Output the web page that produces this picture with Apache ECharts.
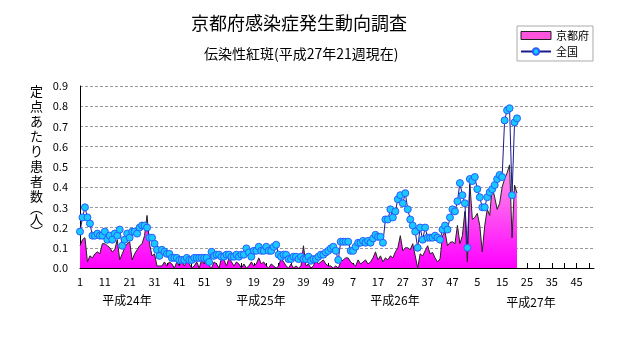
<!DOCTYPE html>
<html>
<head>
<meta charset="utf-8">
<script src="https://cdn.jsdelivr.net/npm/echarts@6/dist/echarts.min.js"></script>
<style>html,body{margin:0;padding:0;background:#fff}#c{width:631px;height:347px}</style>
</head>
<body>
<div id="c"></div>
<script>
// ---- data ----
const yearNames = ['平成24年', '平成25年', '平成26年', '平成27年'];
const yearKeys = ['24', '25', '26', '27'];
const weeksPerYear = [52, 52, 52, 52];

const kyoto2012 = [0.11,0.14,0.15,0.03,0.06,0.05,0.07,0.08,0.07,0.12,0.12,0.11,0.10,0.08,0.09,0.14,0.04,0.07,0.10,0.12,0.13,0.04,0.07,0.09,0.11,0.12,0.16,0.26,0.12,0.06,0.07,0.01,0.01,0.01,0.03,0.01,0.03,0.02,0.00,0.03,0.01,0.04,0.01,0.03,0.02,0.00,0.01,0.03,0.00,0.04,0.02,0.05];
const kyoto2013 = [0.01,0.00,0.03,0.02,0.00,0.05,0.04,0.01,0.05,0.03,0.01,0.03,0.02,0.00,0.02,0.00,0.01,0.03,0.01,0.02,0.05,0.02,0.03,0.01,0.00,0.02,0.01,0.00,0.01,0.05,0.03,0.01,0.00,0.02,0.00,0.01,0.00,0.01,0.11,0.01,0.02,0.00,0.01,0.04,0.02,0.03,0.04,0.02,0.01,0.01,0.00,0.01];
const kyoto2014 = [0.00,0.03,0.04,0.05,0.05,0.03,0.02,0.01,0.04,0.02,0.03,0.04,0.02,0.03,0.05,0.08,0.04,0.06,0.03,0.05,0.04,0.06,0.05,0.08,0.10,0.16,0.085,0.10,0.10,0.09,0.12,0.06,0.00,0.07,0.06,0.085,0.11,0.07,0.077,0.05,0.03,0.045,0.16,0.18,0.11,0.126,0.13,0.12,0.21,0.12,0.16,0.28];
const kyoto2015 = [0.03,0.42,0.24,0.25,0.27,0.21,0.08,0.21,0.29,0.26,0.40,0.35,0.29,0.32,0.40,0.44,0.47,0.51,0.15,0.41,0.37];

const nation2012 = [0.18,0.25,0.30,0.25,0.22,0.16,0.16,0.17,0.16,0.16,0.18,0.14,0.16,0.14,0.17,0.16,0.19,0.11,0.14,0.17,0.15,0.18,0.18,0.17,0.20,0.21,0.21,0.20,0.15,0.15,0.12,0.09,0.06,0.09,0.08,0.07,0.07,0.05,0.05,0.05,0.04,0.04,0.04,0.05,0.04,0.04,0.05,0.05,0.05,0.05,0.05,0.05];
const nation2013 = [0.03,0.08,0.06,0.066,0.066,0.056,0.056,0.066,0.066,0.056,0.056,0.066,0.056,0.066,0.066,0.097,0.077,0.056,0.085,0.085,0.105,0.085,0.085,0.105,0.085,0.085,0.105,0.115,0.066,0.056,0.066,0.066,0.044,0.044,0.056,0.056,0.044,0.056,0.044,0.044,0.056,0.036,0.044,0.044,0.056,0.066,0.066,0.077,0.085,0.097,0.105,0.085];
const nation2014 = [0.04,0.13,0.13,0.13,0.13,0.085,0.085,0.105,0.125,0.125,0.134,0.125,0.134,0.125,0.146,0.164,0.154,0.154,0.125,0.24,0.24,0.29,0.25,0.28,0.34,0.36,0.32,0.37,0.29,0.24,0.21,0.18,0.10,0.20,0.14,0.20,0.15,0.15,0.15,0.16,0.15,0.14,0.19,0.21,0.19,0.25,0.29,0.28,0.33,0.42,0.36,0.32];
const nation2015 = [0.10,0.44,0.43,0.45,0.39,0.35,0.30,0.30,0.35,0.375,0.39,0.41,0.44,0.46,0.45,0.73,0.78,0.79,0.36,0.72,0.74];

// ---- build categories ----
const categories = [];
yearKeys.forEach((k, yi) => {
  for (let w = 1; w <= weeksPerYear[yi]; w++) categories.push(k + '-' + w);
});
const kyoto = [].concat(kyoto2012, kyoto2013, kyoto2014, kyoto2015);
const nation = [].concat(nation2012, nation2013, nation2014, nation2015);

const FONT = '"Noto Sans CJK JP", sans-serif';
const chart = echarts.init(document.getElementById('c'), null, {renderer: 'canvas'});

const yearLabelX = [127, 261, 395, 531];
const yearLabelY = [300, 300, 300, 302];

chart.setOption({
  animation: false,
  backgroundColor: '#fff',
  title: [
    {text: '京都府感染症発生動向調査', left: 186, top: 9,
     textStyle: {fontFamily: FONT, fontSize: 18, fontWeight: 'normal', color: '#000'}},
    {text: '伝染性紅斑(平成27年21週現在)', left: 199, top: 42,
     textStyle: {fontFamily: FONT, fontSize: 14, fontWeight: 'normal', color: '#000'}}
  ],
  legend: {
    orient: 'vertical', left: 517, top: 26,
    borderColor: '#aaa', borderWidth: 1, padding: [4, 4, 4, 3],
    itemGap: 5, itemWidth: 30, itemHeight: 8,
    textStyle: {fontFamily: FONT, fontSize: 11, color: '#000'},
    data: [
      {name: '京都府', icon: 'rect', itemStyle: {color: '#ff55dd', borderColor: '#222', borderWidth: 1}},
      {name: '全国'}
    ]
  },
  grid: {left: 80, right: 37, top: 86, bottom: 79, containLabel: false},
  xAxis: {
    type: 'category', data: categories, boundaryGap: false,
    axisLine: {lineStyle: {color: '#000', width: 1}},
    axisTick: {show: true, interval: 4, inside: true, length: 5, lineStyle: {color: '#000'}},
    axisLabel: {interval: 9, margin: 8, fontSize: 11, color: '#000', fontFamily: FONT,
      formatter: v => v.split('-')[1]},
    splitLine: {show: false}
  },
  yAxis: {
    type: 'value', min: 0, max: 0.9, interval: 0.1,
    axisLine: {show: true, lineStyle: {color: '#000', width: 1}},
    axisTick: {show: false},
    axisLabel: {margin: 12, fontSize: 11, color: '#000', fontFamily: FONT, formatter: v => v.toFixed(1)},
    splitLine: {show: true, lineStyle: {color: '#999', width: 1, type: [3, 2]}}
  },
  graphic: [
    {type: 'text', left: 30, top: 84, z: 10,
     style: {text: '定\n点\nあ\nた\nり\n患\n者\n数\n{p|︵}\n人\n{p|︶}', fontFamily: FONT, fontSize: 13, lineHeight: 15, fill: '#000',
       rich: {p: {fontFamily: FONT, fontSize: 13, lineHeight: 8}}}}
  ].concat(yearNames.map((n, i) => ({
    type: 'text', x: yearLabelX[i], y: yearLabelY[i], z: 10,
    style: {text: n, fontFamily: FONT, fontSize: 12, fill: '#000', align: 'center', verticalAlign: 'middle'}
  }))),
  series: [
    {
      name: '京都府', type: 'line', data: kyoto, showSymbol: false, symbol: 'none',
      lineStyle: {color: '#222', width: 1},
      itemStyle: {color: '#ff55dd'},
      areaStyle: {opacity: 1, color: new echarts.graphic.LinearGradient(0, 0, 0, 1, [
        {offset: 0, color: '#ff99e6'}, {offset: 1, color: '#ff00ff'}])},
      z: 2
    },
    {
      name: '全国', type: 'line', data: nation, symbol: 'circle', symbolSize: 7, showAllSymbol: true,
      lineStyle: {color: '#1a1a90', width: 1},
      itemStyle: {color: '#18c8ff', borderColor: '#2a5cff', borderWidth: 1},
      z: 3
    }
  ]
});
</script>
</body>
</html>
